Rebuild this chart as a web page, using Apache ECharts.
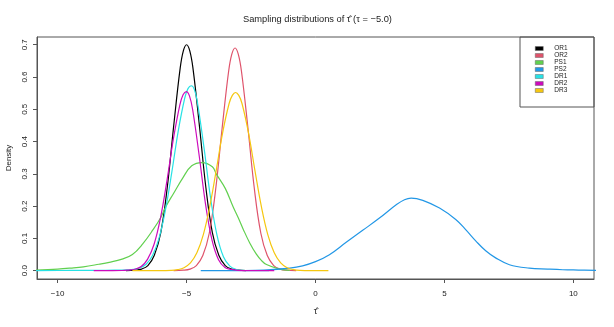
<!DOCTYPE html>
<html><head><meta charset="utf-8">
<script src="https://cdn.jsdelivr.net/npm/echarts@6/dist/echarts.min.js"></script>
<style>html,body{margin:0;padding:0;background:#fff}#c{width:614px;height:327px}</style>
</head><body><div id="c"></div>
<script>
const seriesNames = ['OR1','OR2','PS1','PS2','DR1','DR2','DR3'];
const xTicks = [-10,-5,0,5,10];
const yTicks = [0,0.1,0.2,0.3,0.4,0.5,0.6,0.7];

const or1X = [-7.35,-7.0,-6.75,-6.5,-6.25,-6.0,-5.75,-5.5,-5.25,-5.125,-5.0,-4.875,-4.75,-4.5,-4.25,-4.0,-3.75,-3.5,-3.25,-3.0,-2.7];
const or1Y = [0.0002,0.0015,0.005,0.016,0.048,0.118,0.257,0.448,0.626,0.681,0.700,0.681,0.626,0.448,0.257,0.118,0.048,0.016,0.005,0.0015,0.0002];

const or2X = [-5.5,-5.12,-4.87,-4.62,-4.37,-4.12,-3.87,-3.62,-3.37,-3.245,-3.12,-2.995,-2.87,-2.62,-2.37,-2.12,-1.87,-1.62,-1.37,-1.12,-0.75];
const or2Y = [0.0002,0.0015,0.005,0.016,0.047,0.116,0.253,0.442,0.617,0.671,0.690,0.671,0.617,0.442,0.253,0.116,0.047,0.016,0.005,0.0015,0.0002];

const ps1X = [-10.9,-10.0,-9.5,-9.0,-8.4,-8.0,-7.5,-7.1,-6.7,-6.3,-6.0,-5.8,-5.5,-5.15,-4.8,-4.4,-4.0,-3.85,-3.5,-3.2,-3.0,-2.8,-2.55,-2.3,-2.1,-1.9,-1.4,-1.0];
const ps1Y = [0.002,0.005,0.008,0.012,0.020,0.026,0.036,0.050,0.083,0.127,0.165,0.199,0.24,0.287,0.325,0.335,0.322,0.30,0.255,0.199,0.165,0.128,0.086,0.052,0.032,0.019,0.005,0.001];

const ps2X = [-4.45,-3.0,-2.0,-1.0,-0.5,0.0,0.54,1.19,1.83,2.48,3.13,3.45,3.71,4.16,4.81,5.45,5.85,6.23,6.6,7.0,7.52,8.29,9.0,9.59,10.2,10.9];
const ps2Y = [0.0,0.0005,0.002,0.008,0.015,0.028,0.0496,0.088,0.125,0.163,0.204,0.22,0.225,0.218,0.194,0.158,0.125,0.091,0.062,0.039,0.0186,0.008,0.005,0.003,0.002,0.001];

const dr1X = [-10.9,-9.5,-8.5,-7.8,-7.32,-7.07,-6.82,-6.57,-6.32,-6.07,-5.82,-5.57,-5.32,-5.07,-4.945,-4.82,-4.695,-4.57,-4.32,-4.07,-3.82,-3.57,-3.32,-3.07,-2.82,-2.5,-1.8];
const dr1Y = [0.0005,0.0008,0.0012,0.0018,0.0025,0.0045,0.0085,0.02,0.047,0.100,0.188,0.306,0.434,0.535,0.564,0.573,0.561,0.517,0.379,0.226,0.110,0.043,0.014,0.0036,0.001,0.0003,0.0001];

const dr2X = [-8.6,-7.51,-7.26,-7.01,-6.76,-6.51,-6.26,-6.01,-5.76,-5.51,-5.26,-5.135,-5.01,-4.885,-4.76,-4.51,-4.26,-4.01,-3.76,-3.51,-3.26,-3.01,-2.5,-1.6];
const dr2Y = [0.0002,0.0006,0.002,0.0045,0.013,0.036,0.082,0.164,0.279,0.409,0.514,0.545,0.555,0.541,0.497,0.356,0.204,0.094,0.034,0.010,0.004,0.0012,0.0003,0.0001];

const dr3X = [-7.1,-6.1,-5.6,-5.35,-5.1,-4.85,-4.6,-4.35,-4.1,-3.85,-3.6,-3.35,-3.225,-3.1,-2.975,-2.85,-2.6,-2.35,-2.1,-1.85,-1.6,-1.35,-1.1,-0.85,-0.6,-0.1,0.5];
const dr3Y = [0.0,0.0001,0.0009,0.0031,0.0093,0.0242,0.0556,0.112,0.199,0.311,0.428,0.518,0.543,0.552,0.543,0.518,0.428,0.311,0.199,0.112,0.0556,0.0242,0.0093,0.0031,0.0009,0.0001,0.0];

const colors = ['#000000','#DF536B','#61D04F','#2297E6','#28E2E5','#CD0BBC','#F5C710'];
const xs = [or1X,or2X,ps1X,ps2X,dr1X,dr2X,dr3X];
const ys = [or1Y,or2Y,ps1Y,ps2Y,dr1Y,dr2Y,dr3Y];

const FONT = '"Liberation Sans", Arial, sans-serif';
const chart = echarts.init(document.getElementById('c'), null, {renderer:'canvas'});
const series = seriesNames.map((n,i)=>({
  name:n, type:'line', showSymbol:false, smooth:0.4, color:colors[i],
  lineStyle:{width:1.2, color:colors[i]},
  data: xs[i].map((x,j)=>[x, ys[i][j]]),
  animation:false
}));
chart.setOption({
  animation:false,
  textStyle:{fontFamily:FONT},
  title:{text:'Sampling distributions of \u03C4\u0302 (\u03C4 = \u22125.0)', left:243, top:14.5, padding:0,
    textStyle:{fontSize:9.3, fontWeight:'normal', color:'#222', fontFamily:FONT}},
  grid:{left:37, top:37, right:20, bottom:48, show:true, borderColor:'#555', borderWidth:1,
    containLabel:false, outerBoundsMode:'none'},
  xAxis:{type:'value', min:-10.8, max:10.8,
    name:'\u03C4\u0302', nameLocation:'middle', nameGap:28,
    nameTextStyle:{fontSize:9, color:'#222', fontFamily:FONT},
    axisLine:{show:true, onZero:false, lineStyle:{color:'#555'}},
    axisTick:{show:true, inside:false, length:4, customValues:xTicks, lineStyle:{color:'#555'}},
    axisLabel:{customValues:xTicks, margin:11, fontSize:8, color:'#222', fontFamily:FONT,
      formatter:v=>String(v).replace('-', '\u2212')},
    splitLine:{show:false}},
  yAxis:{type:'value', min:-0.0257, max:0.724,
    name:'Density', nameLocation:'middle', nameGap:24, nameRotate:90,
    nameTextStyle:{fontSize:8, color:'#222', fontFamily:FONT},
    axisLine:{show:true, onZero:false, lineStyle:{color:'#555'}},
    axisTick:{show:true, inside:false, length:4, customValues:yTicks, lineStyle:{color:'#555'}},
    axisLabel:{customValues:yTicks, margin:8, fontSize:8, color:'#222', rotate:90, fontFamily:FONT,
      formatter:v=>v.toFixed(1)},
    splitLine:{show:false}},
  legend:{data:seriesNames, orient:'vertical', left:535, top:45, padding:0, itemGap:0,
    itemWidth:8, itemHeight:4, icon:'rect',
    itemStyle:{borderColor:'#666', borderWidth:0.5},
    textStyle:{fontSize:6.5, lineHeight:6, color:'#222', padding:[0,0,0,6], fontFamily:FONT}},
  graphic:[{type:'rect', shape:{x:520, y:37, width:74, height:70}, style:{fill:'none', stroke:'#555', lineWidth:1}, silent:true}],
  series: series
});
</script></body></html>
